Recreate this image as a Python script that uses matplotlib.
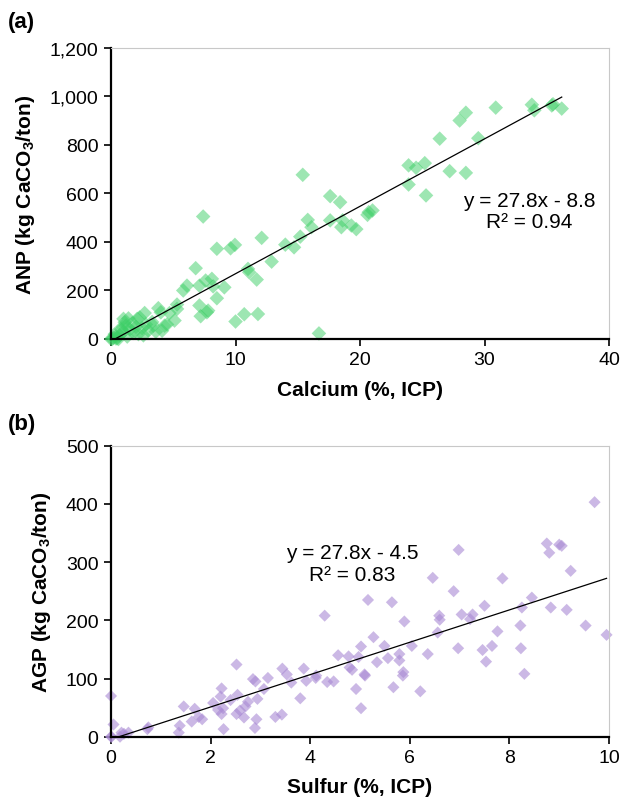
import numpy as np
import matplotlib.pyplot as plt
from matplotlib.ticker import FuncFormatter

plt.rcParams['font.family'] = ['Liberation Sans', 'DejaVu Sans']
plt.rcParams['mathtext.fontset'] = 'custom'
plt.rcParams['mathtext.rm'] = 'Liberation Sans'
plt.rcParams['mathtext.bf'] = 'Liberation Sans:bold'

# (a) calcium vs ANP
ca_pct = [33.8, 34.0, 35.4, 35.5, 36.2, 30.9, 28.5, 28.0, 29.5, 26.4,
          23.9, 24.5, 25.2, 27.2, 28.5, 23.9, 25.3, 15.4, 17.6, 18.4,
          17.6, 18.6, 18.5, 19.3, 19.7, 20.6, 20.7, 21.0, 15.8, 16.1,
          15.2, 14.0, 14.7, 12.1, 12.9, 11.0, 11.1, 11.7, 9.6, 9.95,
          8.5, 7.4, 6.8, 6.1, 5.8, 7.1, 7.6, 8.1, 8.2, 9.1,
          8.5, 7.1, 7.2, 7.7, 7.8, 10.0, 10.7, 11.8, 16.7, 5.3,
          5.3, 5.1, 4.7, 4.3, 4.1, 3.8, 4.0, 3.4, 2.7, 2.3,
          2.1, 1.4, 1.0, 1.1, 0.0, 0.2, 0.4, 0.5, 0.7, 0.3,
          1.0, 1.5, 1.8, 2.0, 2.5, 2.8, 3.0, 1.2, 0.8, 2.2,
          0.1, 0.6, 1.3, 3.3, 4.5, 3.6, 2.6, 1.7, 0.9, 0.4]
anp = [966, 943, 963, 968, 950, 954, 933, 901, 828, 826,
       716, 706, 725, 692, 685, 637, 592, 677, 589, 564,
       489, 489, 461, 468, 453, 512, 523, 530, 491, 461,
       422, 389, 378, 417, 319, 289, 275, 245, 374, 388,
       372, 505, 292, 220, 200, 220, 241, 248, 217, 213,
       168, 138, 94, 110, 117, 72, 102, 103, 23, 142,
       124, 76, 107, 55, 34, 127, 110, 55, 107, 89,
       83, 85, 83, 69, 0, 5, 10, 3, 15, 20,
       30, 40, 25, 50, 45, 60, 35, 55, 40, 20,
       0, 0, 10, 70, 60, 30, 15, 65, 50, 2]
ca_slope, ca_icept, ca_r2 = 27.8, -8.8, 0.94

# (b) sulfur vs AGP
s_pct = [9.71, 8.75, 8.80, 9.0, 9.05, 9.23, 6.98, 6.46, 7.86, 6.88,
         8.45, 8.83, 8.25, 9.15, 7.50, 6.59, 6.60, 7.04, 7.26, 7.21,
         5.16, 5.64, 4.29, 5.89, 8.22, 9.53, 9.95, 7.76, 6.56, 6.04,
         6.36, 6.97, 7.46, 7.65, 8.23, 7.53, 8.30, 5.27, 5.02, 5.49,
         5.56, 5.34, 5.79, 5.79, 5.87, 5.86, 5.67, 6.21, 4.56, 4.77,
         4.79, 4.84, 4.97, 5.09, 5.10, 4.92, 5.02, 4.34, 4.47, 4.11,
         4.12, 3.92, 3.87, 3.44, 3.53, 3.62, 3.80, 3.30, 3.43, 3.15,
         3.07, 2.85, 2.90, 2.94, 2.92, 2.89, 2.52, 2.54, 2.75, 2.70,
         2.67, 2.59, 2.52, 2.40, 2.22, 2.20, 2.15, 2.25, 2.22, 2.26,
         2.05, 1.83, 1.76, 1.68, 1.62, 1.46, 1.38, 1.36, 0.75, 0.73,
         0.0, 0.05, 0.0, 0.01, 0.21, 0.35, 0.26, 0.18]
agp = [403, 332, 316, 330, 328, 285, 321, 273, 272, 250,
       239, 222, 222, 218, 225, 208, 201, 210, 210, 202,
       235, 231, 208, 198, 191, 191, 175, 181, 179, 156,
       142, 152, 149, 156, 152, 129, 108, 171, 155, 156,
       135, 128, 142, 131, 111, 105, 85, 78, 140, 138,
       119, 115, 137, 107, 105, 82, 49, 94, 95, 101,
       105, 96, 117, 117, 107, 93, 66, 34, 38, 101,
       82, 99, 95, 65, 30, 15, 124, 72, 60, 52,
       33, 45, 39, 63, 83, 69, 46, 49, 39, 13,
       58, 30, 34, 48, 26, 52, 19, 7, 16, 13,
       70, 21, 0, 0, 7, 7, 5, 0]
s_slope, s_icept, s_r2 = 27.8, -4.5, 0.83

fig = plt.figure(figsize=(6.28, 8.03), dpi=100)
ax1 = fig.add_axes([0.1768, 0.5766, 0.793, 0.3624])
ax2 = fig.add_axes([0.1768, 0.0813, 0.793, 0.3624])


def style(ax):
    for side in ['top', 'right']:
        ax.spines[side].set_color('#c8c8c8')
        ax.spines[side].set_linewidth(0.8)
    for side in ['left', 'bottom']:
        ax.spines[side].set_color('black')
        ax.spines[side].set_linewidth(1.6)
    ax.tick_params(direction='out', length=5, width=1.2, labelsize=14, pad=4)


def trend(ax, x, slope, icept):
    xs = np.array([min(x), max(x)])
    ax.plot(xs, slope * xs + icept, color='black', lw=0.9, zorder=3)


# panel (a)
ax1.scatter(ca_pct, anp, marker='D', s=55, color='#3ccf66', alpha=0.5,
            edgecolors='none', zorder=2, clip_on=False)
trend(ax1, ca_pct, ca_slope, ca_icept)
ax1.set_xlim(0, 40)
ax1.set_ylim(0, 1200)
ax1.set_xticks(np.arange(0, 41, 10))
ax1.set_yticks(np.arange(0, 1201, 200))
ax1.yaxis.set_major_formatter(FuncFormatter(lambda v, p: f'{int(v):,}'))
style(ax1)
ax1.set_xlabel('Calcium (%, ICP)', fontsize=15, fontweight='bold', labelpad=8)
ax1.set_ylabel('ANP (kg CaCO$_\\mathbf{3}$/ton)', fontsize=15, fontweight='bold')
ax1.yaxis.set_label_coords(-0.149, 0.5)
ax1.text(0.84, 0.44, f'y = {ca_slope}x - {abs(ca_icept)}\nR² = {ca_r2}',
         transform=ax1.transAxes, ha='center', va='center', fontsize=15,
         linespacing=1.15)
fig.text(0.012, 0.985, '(a)', fontsize=16, fontweight='bold', va='top')

# panel (b)
ax2.scatter(s_pct, agp, marker='D', s=38, color='#a98ad4', alpha=0.6,
            edgecolors='none', zorder=2, clip_on=False)
trend(ax2, s_pct, s_slope, s_icept)
ax2.set_xlim(0, 10)
ax2.set_ylim(0, 500)
ax2.set_xticks(np.arange(0, 11, 2))
ax2.set_yticks(np.arange(0, 501, 100))
style(ax2)
ax2.set_xlabel('Sulfur (%, ICP)', fontsize=15, fontweight='bold', labelpad=8)
ax2.set_ylabel('AGP (kg CaCO$_\\mathbf{3}$/ton)', fontsize=15, fontweight='bold')
ax2.yaxis.set_label_coords(-0.116, 0.5)
ax2.text(0.485, 0.595, f'y = {s_slope}x - {abs(s_icept)}\nR² = {s_r2}',
         transform=ax2.transAxes, ha='center', va='center', fontsize=15,
         linespacing=1.15)
fig.text(0.012, 0.485, '(b)', fontsize=16, fontweight='bold', va='top')

fig.savefig('out.png', dpi=100)
